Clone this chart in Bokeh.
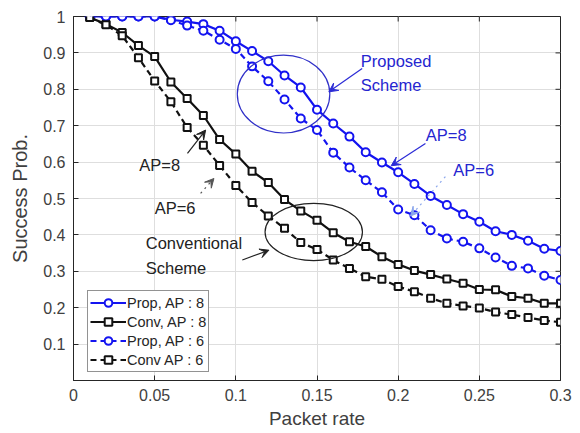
from bokeh.plotting import figure
from bokeh.models import (FixedTicker, Legend, LegendItem, Arrow, VeeHead, Range1d)
from bokeh.core.properties import value
from bokeh.embed import file_html
from bokeh.resources import INLINE

# ---------------- data ----------------
packet_rate = [0.01, 0.02, 0.03, 0.04, 0.05, 0.06, 0.07, 0.08, 0.09, 0.10,
               0.11, 0.12, 0.13, 0.14, 0.15, 0.16, 0.17, 0.18, 0.19, 0.20,
               0.21, 0.22, 0.23, 0.24, 0.25, 0.26, 0.27, 0.28, 0.29, 0.30]

prop_ap8 = [1.0, 1.0, 1.0, 1.0, 1.0, 0.991, 0.986, 0.979, 0.961, 0.932,
            0.905, 0.877, 0.838, 0.805, 0.744, 0.706, 0.670, 0.627, 0.599, 0.572,
            0.540, 0.507, 0.482, 0.457, 0.436, 0.410, 0.400, 0.384, 0.362, 0.356]

conv_ap8 = [0.997, 0.979, 0.956, 0.920, 0.890, 0.820, 0.775, 0.728, 0.662, 0.622,
            0.575, 0.544, 0.497, 0.466, 0.440, 0.406, 0.381, 0.368, 0.340, 0.319,
            0.302, 0.291, 0.279, 0.267, 0.250, 0.249, 0.231, 0.226, 0.212, 0.212]

prop_ap6 = [1.0, 1.0, 1.0, 1.0, 1.0, 0.990, 0.975, 0.961, 0.936, 0.911,
            0.863, 0.822, 0.772, 0.720, 0.688, 0.626, 0.585, 0.550, 0.517, 0.470,
            0.454, 0.413, 0.390, 0.381, 0.363, 0.338, 0.315, 0.308, 0.288, 0.276]

conv_ap6 = [0.997, 0.977, 0.947, 0.887, 0.823, 0.766, 0.695, 0.646, 0.591, 0.536,
            0.489, 0.452, 0.418, 0.379, 0.360, 0.331, 0.308, 0.285, 0.278, 0.258,
            0.244, 0.226, 0.212, 0.205, 0.199, 0.188, 0.181, 0.173, 0.165, 0.160]

legend_labels = ["Prop, AP : 8", "Conv, AP : 8", "Prop, AP : 6", "Conv AP : 6"]

x_ticks = [0, 0.05, 0.1, 0.15, 0.2, 0.25, 0.3]
x_tick_labels = ["0", "0.05", "0.1", "0.15", "0.2", "0.25", "0.3"]
y_ticks = [0.1, 0.2, 0.3, 0.4, 0.5, 0.6, 0.7, 0.8, 0.9, 1.0]
y_tick_labels = ["0.1", "0.2", "0.3", "0.4", "0.5", "0.6", "0.7", "0.8", "0.9", "1"]

X_MIN, X_MAX = 0.0, 0.3
Y_MIN, Y_MAX = 0.0, 1.0

# annotations (data coordinates)
blue_ellipse = dict(x=[0.1294], y=[0.787], w=[0.057], h=[0.214])
black_ellipse = dict(x=[0.148], y=[0.408], w=[0.060], h=[0.157])

blue_text_x = [0.177, 0.177, 0.217, 0.234]
blue_text_y = [0.878, 0.812, 0.674, 0.578]
blue_text = ["Proposed", "Scheme", "AP=8", "AP=6"]

black_text_x = [0.0405, 0.050, 0.0445, 0.0445]
black_text_y = [0.592, 0.473, 0.377, 0.308]
black_text = ["AP=8", "AP=6", "Conventional", "Scheme"]

# arrows: (x_start, y_start, x_end, y_end, color, dash)
arrows = [
    (0.1778, 0.857, 0.1573, 0.793, "#2b2bd6", "solid"),
    (0.2168, 0.651, 0.1957, 0.590, "#2b2bd6", "solid"),
    (0.2291, 0.560, 0.2076, 0.452, "#8aa6ec", "dotted"),
    (0.0702, 0.624, 0.0814, 0.688, "#222222", "solid"),
    (0.0783, 0.514, 0.0865, 0.555, "#555555", "dotted"),
    (0.1040, 0.331, 0.1204, 0.358, "#222222", "solid"),
]

BLUE = "#1414f0"
BLACK = "#111111"
FONT = "Liberation Sans"
AX = "#262626"

W, H = 576, 432
BL, BR, BT, BB = 73, 16, 16, 52

p = figure(width=W, height=H, output_backend="svg", toolbar_location=None,
           x_range=Range1d(X_MIN, X_MAX), y_range=Range1d(Y_MIN, Y_MAX),
           min_border_left=BL, min_border_right=BR, min_border_top=BT,
           min_border_bottom=BB)
p.background_fill_color = "white"
p.border_fill_color = "white"
p.outline_line_color = AX
p.outline_line_width = 1

# grid
p.xgrid.ticker = FixedTicker(ticks=x_ticks)
p.ygrid.ticker = FixedTicker(ticks=y_ticks)
p.grid.grid_line_color = "#dedede"
p.grid.grid_line_width = 1

# axes
for ax in [p.xaxis[0], p.yaxis[0]]:
    ax.major_tick_in = 5
    ax.major_tick_out = 0
    ax.minor_tick_line_color = None
    ax.axis_line_color = AX
    ax.major_tick_line_color = AX
    ax.major_label_text_font = FONT
    ax.major_label_text_font_size = "16px"
    ax.major_label_text_color = "#404040"
    ax.axis_label_text_font = FONT
    ax.axis_label_text_font_style = "normal"
    ax.axis_label_text_color = "#404040"

p.xaxis[0].ticker = FixedTicker(ticks=x_ticks)
p.xaxis[0].major_label_overrides = {t: s for t, s in zip(x_ticks, x_tick_labels)}
p.xaxis[0].axis_label = "Packet rate"
p.xaxis[0].axis_label_text_font_size = "19px"
p.xaxis[0].major_label_standoff = 8
p.xaxis[0].axis_label_standoff = 4

p.yaxis[0].ticker = FixedTicker(ticks=y_ticks)
p.yaxis[0].major_label_overrides = {t: s for t, s in zip(y_ticks, y_tick_labels)}
p.yaxis[0].axis_label = "Success Prob."
p.yaxis[0].axis_label_text_font_size = "20px"
p.yaxis[0].major_label_standoff = 8
p.yaxis[0].axis_label_standoff = 9

# mirrored inward ticks on the top and right frame edges (5 px long)
plot_w = W - BL - BR
plot_h = H - BT - BB
tick_dx = (X_MAX - X_MIN) * 5.0 / plot_w
tick_dy = (Y_MAX - Y_MIN) * 5.0 / plot_h
p.segment(x0=x_ticks, y0=[Y_MAX] * len(x_ticks), x1=x_ticks,
          y1=[Y_MAX - tick_dy] * len(x_ticks), line_color=AX, line_width=1)
p.segment(x0=[X_MAX] * len(y_ticks), y0=y_ticks, x1=[X_MAX - tick_dx] * len(y_ticks),
          y1=y_ticks, line_color=AX, line_width=1)

# series
series = [
    (prop_ap8, BLUE, "solid", "circle"),
    (conv_ap8, BLACK, "solid", "square"),
    (prop_ap6, BLUE, "6 4", "circle"),
    (conv_ap6, BLACK, "6 4", "square"),
]
items = []
for (ys, col, dash, mk), lab in zip(series, legend_labels):
    lr = p.line(packet_rate, ys, line_color=col, line_width=2.2, line_dash=dash)
    sr = p.scatter(packet_rate, ys, marker=mk, size=8 if mk == "circle" else 7,
                   line_color=col, line_width=2, fill_color="white")
    items.append(LegendItem(label=lab, renderers=[lr, sr]))

legend = Legend(items=items, location=(14, 8), glyph_width=36, glyph_height=19,
                label_height=19, spacing=0, padding=2, margin=0, label_standoff=1,
                label_text_font=FONT, label_text_font_size="14.5px",
                label_text_color="#262626", border_line_color=AX,
                border_line_width=1, background_fill_alpha=1)
p.add_layout(legend, "center")

# ellipses
p.ellipse(x=blue_ellipse["x"], y=blue_ellipse["y"], width=blue_ellipse["w"],
          height=blue_ellipse["h"], fill_color=None, line_color="#3030c8", line_width=1.2)
p.ellipse(x=black_ellipse["x"], y=black_ellipse["y"], width=black_ellipse["w"],
          height=black_ellipse["h"], fill_color=None, line_color="#222222", line_width=1.2)

# texts
p.text(x=blue_text_x, y=blue_text_y, text=blue_text, text_font=value(FONT),
       text_font_size="16.5px", text_color="#2525d0", text_baseline="middle",
       text_align="left")
p.text(x=black_text_x, y=black_text_y, text=black_text, text_font=value(FONT),
       text_font_size="16.5px", text_color="#222222", text_baseline="middle",
       text_align="left")

# arrows
for xs, ys, xe, ye, col, dash in arrows:
    p.add_layout(Arrow(end=VeeHead(size=9, fill_color=col, line_color=col),
                       x_start=xs, y_start=ys, x_end=xe, y_end=ye,
                       line_color=col, line_width=1.2, line_dash=dash))

open("out.html", "w").write(file_html(p, INLINE))
